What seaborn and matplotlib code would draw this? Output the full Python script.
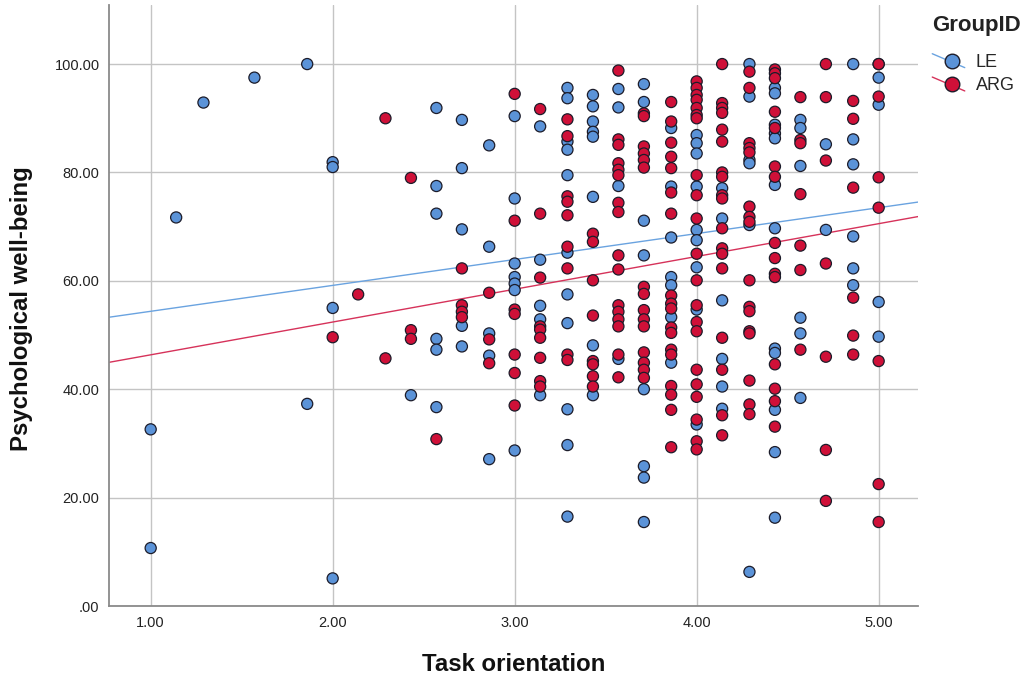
"""
Scatter of psychological well-being against task orientation, by group,
with a linear fit line for each group (SPSS style).
"""

import pandas as pd
import matplotlib
matplotlib.use("Agg")
import matplotlib.pyplot as plt
from matplotlib.lines import Line2D
from matplotlib.legend_handler import HandlerBase
from matplotlib.ticker import FuncFormatter
import seaborn as sns

# --- data ---
groups = ["LE", "ARG"]

le_levels = [1.00, 1.14, 1.29, 1.57, 1.86, 2.00, 2.43, 2.57, 2.71, 2.86,
             3.00, 3.14, 3.29, 3.43, 3.57, 3.71, 3.86, 4.00, 4.14, 4.29,
             4.43, 4.57, 4.71, 4.86, 5.00]
le_scores = [
    [32.6, 10.7],
    [71.7],
    [92.9],
    [97.5],
    [100.0, 37.3],
    [81.9, 81.0, 55.0, 5.1],
    [38.9],
    [91.9, 77.5, 72.4, 49.3, 47.3, 36.7],
    [89.7, 80.8, 69.5, 51.7, 47.9],
    [85.0, 66.3, 50.3, 46.2, 27.1],
    [90.4, 75.2, 63.2, 60.7, 59.5, 58.3, 28.7],
    [88.5, 63.9, 55.4, 52.9, 38.9],
    [95.6, 93.7, 85.7, 84.2, 79.5, 65.2, 57.5, 52.2, 36.3, 29.7, 16.5],
    [94.3, 92.2, 89.4, 87.5, 86.6, 75.5, 48.1, 38.9],
    [95.4, 92.0, 77.5, 45.6],
    [96.3, 93.0, 71.1, 64.7, 40.0, 25.8, 23.7, 15.5],
    [88.2, 77.4, 68.0, 60.7, 59.2, 53.3, 44.9],
    [86.9, 85.4, 83.5, 77.4, 69.4, 67.5, 62.5, 54.7, 33.5],
    [77.1, 71.5, 56.4, 45.6, 40.5, 36.4],
    [100.0, 94.0, 82.3, 81.7, 70.3, 6.3],
    [95.6, 94.6, 88.8, 87.2, 86.3, 77.7, 69.7, 47.5, 46.7, 36.2, 28.4, 16.3],
    [89.7, 88.2, 81.2, 53.2, 50.3, 38.4],
    [85.2, 69.4],
    [100.0, 86.1, 81.5, 68.2, 62.3, 59.2],
    [100.0, 97.5, 92.5, 56.1, 49.7],
]

arg_levels = [2.00, 2.14, 2.29, 2.43, 2.57, 2.71, 2.86, 3.00, 3.14, 3.29,
              3.43, 3.57, 3.71, 3.86, 4.00, 4.14, 4.29, 4.43, 4.57, 4.71,
              4.86, 5.00]
arg_scores = [
    [49.6],
    [57.5],
    [90.0, 45.7],
    [79.0, 50.9, 49.3],
    [30.8],
    [62.3, 55.5, 54.3, 53.3],
    [57.8, 49.2, 44.8],
    [94.5, 71.1, 54.7, 53.9, 46.4, 43.0, 37.0],
    [91.7, 72.4, 60.6, 51.6, 51.0, 49.5, 45.8, 41.5, 40.5],
    [89.8, 86.7, 75.6, 74.6, 72.1, 66.3, 62.3, 46.4, 45.4],
    [68.7, 67.2, 60.1, 53.6, 45.2, 44.6, 42.4, 40.5],
    [98.8, 86.1, 85.1, 81.7, 80.5, 79.5, 74.4, 72.7, 64.7, 62.1, 55.5,
     54.3, 52.9, 51.6, 46.4, 42.2],
    [90.9, 90.4, 84.8, 83.5, 82.3, 80.9, 58.9, 57.6, 54.6, 52.9, 51.6,
     46.8, 44.9, 43.6, 42.1],
    [93.0, 89.4, 85.5, 82.9, 80.8, 76.3, 72.4, 57.3, 55.8, 54.9, 51.4,
     50.4, 47.3, 46.4, 40.6, 39.0, 36.2, 29.3],
    [96.8, 95.6, 94.3, 93.4, 91.9, 90.6, 90.0, 79.5, 75.8, 71.5, 65.0,
     60.1, 55.5, 52.4, 50.7, 43.6, 40.9, 38.6, 34.4, 30.4, 28.9],
    [100.0, 92.8, 91.9, 91.0, 87.9, 85.7, 80.0, 79.2, 75.8, 75.2, 69.7,
     66.0, 65.0, 62.3, 49.5, 43.6, 35.2, 31.5],
    [98.6, 95.6, 85.4, 84.5, 83.7, 73.7, 71.8, 70.9, 60.1, 55.2, 54.4,
     50.7, 50.3, 41.6, 37.2, 35.4],
    [99.0, 98.3, 97.4, 91.2, 88.2, 81.1, 79.2, 67.0, 64.2, 61.3, 60.7,
     44.6, 40.1, 37.8, 33.1],
    [93.9, 86.0, 85.4, 76.0, 66.5, 62.0, 47.3],
    [100.0, 93.9, 82.2, 63.2, 46.0, 28.8, 19.4],
    [93.2, 89.9, 77.2, 56.9, 49.9, 46.4],
    [100.0, 94.0, 79.1, 73.5, 45.2, 22.5, 15.5],
]

# fit lines (intercept, slope) per group
fit_intercept = [49.6, 40.3]
fit_slope = [4.78, 6.05]

x_ticks = [1, 2, 3, 4, 5]
y_ticks = [0, 20, 40, 60, 80, 100]

fill_colors = ["#5b93d8", "#cf1038"]
line_colors = ["#6aa3e0", "#d6325a"]
edge_color = "#1c1c2a"


def build_frame():
    rows = []
    for name, levels, scores in [("LE", le_levels, le_scores),
                                 ("ARG", arg_levels, arg_scores)]:
        for x, ys in zip(levels, scores):
            for y in ys:
                rows.append({"Task orientation": x,
                             "Psychological well-being": y,
                             "GroupID": name})
    return pd.DataFrame(rows)


class SlantHandler(HandlerBase):
    """Legend key: marker with a short slanted fit line through it."""
    def create_artists(self, legend, orig_handle, xdescent, ydescent,
                       width, height, fontsize, trans):
        x0, x1 = -xdescent, -xdescent + width
        y0, y1 = -ydescent + height * 1.05, -ydescent - height * 0.05
        line = Line2D([x0, x1], [y0, y1], color=orig_handle.get_color(),
                      lw=1.0, transform=trans)
        dot = Line2D([x0 + width * 0.62], [-ydescent + height * 0.5],
                     marker="o", ls="none",
                     ms=orig_handle.get_markersize(),
                     mfc=orig_handle.get_markerfacecolor(),
                     mec=orig_handle.get_markeredgecolor(),
                     mew=orig_handle.get_markeredgewidth(),
                     transform=trans)
        return [line, dot]


def main():
    sns.set_style("white")
    plt.rcParams["font.family"] = ["Liberation Sans", "DejaVu Sans"]

    df = build_frame()

    fig = plt.figure(figsize=(10.29, 6.84), dpi=100)
    ax = fig.add_axes([0.1062, 0.1140, 0.7859, 0.8787])

    ax.set_xlim(0.7725, 5.216)
    ax.set_ylim(0, 110.9)
    ax.set_xticks(x_ticks)
    ax.set_yticks(y_ticks)
    ax.grid(True, color="#c4c4c4", linewidth=1.0, zorder=0)
    ax.set_axisbelow(True)

    sns.scatterplot(data=df, x="Task orientation", y="Psychological well-being",
                    hue="GroupID", hue_order=groups,
                    palette=dict(zip(groups, fill_colors)),
                    s=64, edgecolor=edge_color, linewidth=0.9,
                    legend=False, ax=ax, zorder=3)

    for b0, b1, c in zip(fit_intercept, fit_slope, line_colors):
        ax.axline((0, b0), slope=b1, color=c, lw=1.0, zorder=2)

    fmt = FuncFormatter(lambda v, _: f"{v:.2f}".lstrip("0") if v < 1 else f"{v:.2f}")
    ax.xaxis.set_major_formatter(FuncFormatter(lambda v, _: f"{v:.2f}"))
    ax.yaxis.set_major_formatter(fmt)
    ax.tick_params(axis="both", length=0, labelsize=10.5, colors="#222222", pad=7)

    for side in ["top", "right"]:
        ax.spines[side].set_visible(False)
    for side in ["left", "bottom"]:
        ax.spines[side].set_color("#8a8a8a")
        ax.spines[side].set_linewidth(1.3)

    ax.set_xlabel("Task orientation", fontsize=17.3, fontweight="bold", color="#111111")
    ax.set_ylabel("Psychological well-being", fontsize=17.3, fontweight="bold", color="#111111")
    ax.xaxis.set_label_coords(0.5, -0.0965)
    ax.xaxis.label.set_va("center")
    ax.yaxis.set_label_coords(-0.108, 0.494)
    ax.yaxis.label.set_va("center")

    # legend: title as its own text so the gap below it can match SPSS
    fig.text(932 / 1029, 1 - 26 / 684, "GroupID", fontsize=16, fontweight="bold",
             color="#222222", ha="left", va="center")
    handles = [Line2D([], [], color=lc, marker="o", ms=10.5, mfc=fc,
                      mec=edge_color, mew=1.0)
               for lc, fc in zip(line_colors, fill_colors)]
    fig.legend(handles, groups, loc="upper left",
               bbox_to_anchor=(0.906, 1 - 54 / 684), frameon=False,
               fontsize=13, handler_map={Line2D: SlantHandler()},
               handlelength=1.8, handletextpad=0.6, labelspacing=0.35,
               borderaxespad=0, borderpad=0)

    fig.savefig("out.png", dpi=100)
    plt.close(fig)


if __name__ == "__main__":
    main()
